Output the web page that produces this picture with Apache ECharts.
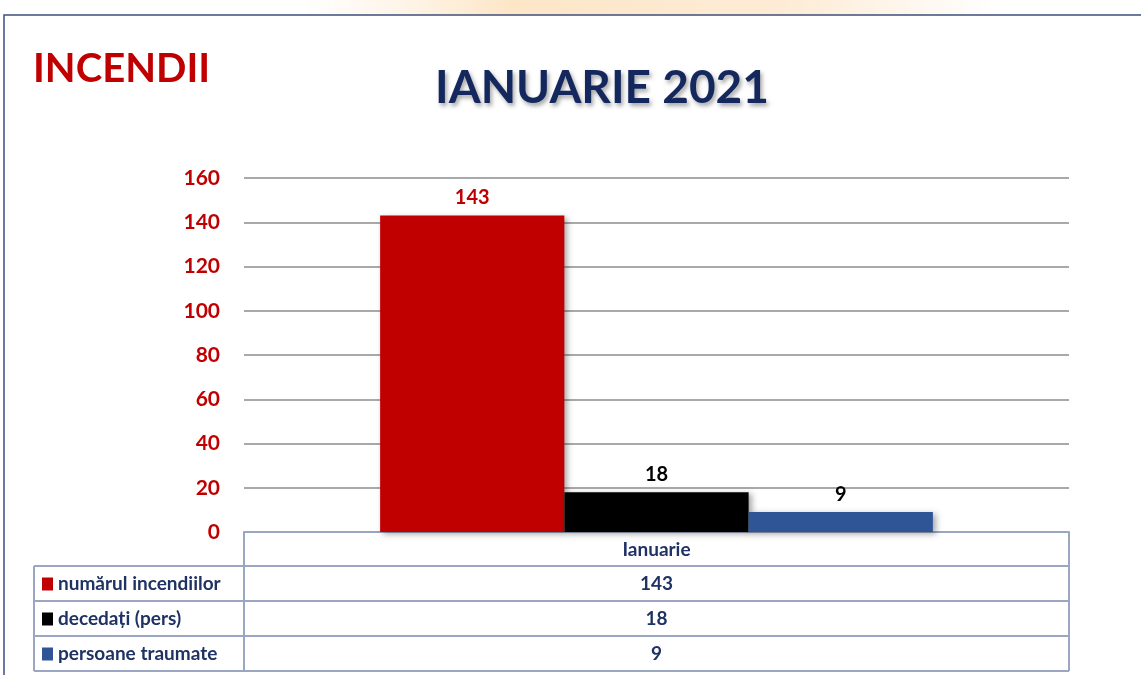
<!DOCTYPE html>
<html>
<head>
<meta charset="utf-8">
<script src="https://cdn.jsdelivr.net/npm/echarts@6/dist/echarts.min.js"></script>
<style>
  html, body { margin: 0; padding: 0; background: #fff; }
  #main { width: 1141px; height: 675px; }
</style>
</head>
<body>
<div id="main"></div>
<script>
// date
var categories = ['Ianuarie'];
var seriesNames = ['numărul incendiilor', 'decedați (pers)', 'persoane traumate'];
var incendii = [143];
var decedati = [18];
var traumati = [9];
var colors = ['#c00000', '#000000', '#2f5597'];
var yTicks = [0, 20, 40, 60, 80, 100, 120, 140, 160];

var chart = echarts.init(document.getElementById('main'));

var plotLeft = 244, plotRight = 1069, plotTop = 178, plotBottom = 532;
var tableLeft = 34, rowH = 35, headH = 34;
var lineColor = '#9aa6c2';
var navy = '#1f3264';
var FONT = 'Lato, "Open Sans", sans-serif';

var allValues = [incendii, decedati, traumati];

var graphics = [];
// fundal slide sus
graphics.push({
  type: 'rect', shape: { x: 300, y: 0, width: 700, height: 15 }, silent: true,
  style: { fill: new echarts.graphic.LinearGradient(0, 0, 1, 0, [
    { offset: 0, color: 'rgba(253,236,214,0)' },
    { offset: 0.3, color: 'rgba(253,230,200,1)' },
    { offset: 0.7, color: 'rgba(253,236,214,1)' },
    { offset: 1, color: 'rgba(253,236,214,0)' }
  ]) }
});
graphics.push({ type: 'polyline', shape: { points: [[4, 675], [4, 15], [1141, 15]] }, style: { stroke: '#3e4f7e', lineWidth: 1.5, fill: null } });

// tabel de date sub grafic
var y0 = plotBottom + headH;
graphics.push({ type: 'line', shape: { x1: plotLeft, y1: plotBottom, x2: plotLeft, y2: y0 + rowH * 3 }, style: { stroke: lineColor, lineWidth: 2 } });
graphics.push({ type: 'line', shape: { x1: plotRight, y1: plotBottom, x2: plotRight, y2: y0 + rowH * 3 }, style: { stroke: lineColor, lineWidth: 2 } });
graphics.push({ type: 'line', shape: { x1: tableLeft, y1: y0, x2: tableLeft, y2: y0 + rowH * 3 }, style: { stroke: lineColor, lineWidth: 2 } });
for (var r = 0; r <= 3; r++) {
  graphics.push({ type: 'line', shape: { x1: tableLeft, y1: y0 + rowH * r, x2: plotRight, y2: y0 + rowH * r }, style: { stroke: lineColor, lineWidth: 2 } });
}
seriesNames.forEach(function (name, i) {
  var cy = y0 + rowH * i + rowH / 2;
  graphics.push({ type: 'rect', shape: { x: 42, y: cy - 6, width: 11, height: 13 }, style: { fill: colors[i] } });
  graphics.push({ type: 'text', x: 58, y: cy, style: { text: name, font: 'bold 19px ' + FONT, fill: navy, verticalAlign: 'middle' } });
  graphics.push({ type: 'text', x: (plotLeft + plotRight) / 2, y: cy, style: { text: String(allValues[i][0]), font: 'bold 19px ' + FONT, fill: navy, align: 'center', verticalAlign: 'middle' } });
});
// titluri
graphics.push({ type: 'text', x: 33, y: 69, style: { text: 'INCENDII', font: 'bold 40px ' + FONT, fill: '#c00000', verticalAlign: 'middle' } });
graphics.push({ type: 'text', x: 602, y: 88, style: { text: 'IANUARIE 2021', font: 'bold 46px ' + FONT, fill: '#14285e', align: 'center', verticalAlign: 'middle', textShadowColor: 'rgba(0,0,0,0.35)', textShadowBlur: 4, textShadowOffsetX: 2, textShadowOffsetY: 3 } });

function barSeries(name, data, color, labelColor) {
  return {
    name: name,
    type: 'bar',
    data: data,
    barGap: 0,
    barCategoryGap: '33%',
    itemStyle: { color: color, shadowColor: 'rgba(0,0,0,0.35)', shadowBlur: 6, shadowOffsetX: 3, shadowOffsetY: 2 },
    label: { show: true, position: 'top', distance: 8, color: labelColor, fontWeight: 'bold', fontSize: 20, fontFamily: FONT }
  };
}

chart.setOption({
  animation: false,
  grid: { left: plotLeft, right: 1141 - plotRight, top: plotTop, bottom: 675 - plotBottom },
  xAxis: {
    type: 'category',
    data: categories,
    axisLine: { show: true, lineStyle: { color: lineColor, width: 2 } },
    axisTick: { show: false },
    axisLabel: { color: navy, fontWeight: 'bold', fontSize: 19, fontFamily: FONT, margin: 8 }
  },
  yAxis: {
    type: 'value',
    min: yTicks[0],
    max: yTicks[yTicks.length - 1],
    interval: 20,
    axisLine: { show: false },
    axisTick: { show: false },
    axisLabel: { color: '#c00000', fontWeight: 'bold', fontSize: 21, fontFamily: FONT, margin: 24 },
    splitLine: { lineStyle: { color: '#8c8c8c', width: 1.5 } }
  },
  series: [
    barSeries(seriesNames[0], incendii, colors[0], '#c00000'),
    barSeries(seriesNames[1], decedati, colors[1], '#000000'),
    barSeries(seriesNames[2], traumati, colors[2], '#000000')
  ],
  graphic: graphics
});
</script>
</body>
</html>
